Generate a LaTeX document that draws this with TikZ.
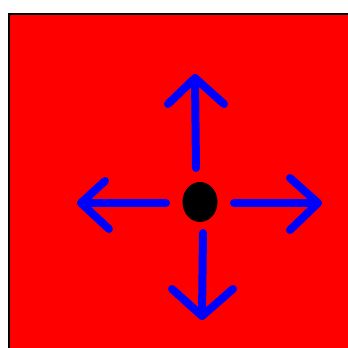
\documentclass[tikz,border=0pt]{standalone}
\usetikzlibrary{shapes.geometric}
\begin{document}
\begin{tikzpicture}[x=1pt,y=-1pt,
  arrowline/.style={draw={rgb,255:red,0;green,0;blue,255}, line width=8pt, line cap=round, line join=round}]
\useasboundingbox (0,0) rectangle (348,348);
\clip (0,0) rectangle (348,348);
\fill[white] (0,0) rectangle (348,348);
\draw[fill={rgb,255:red,255;green,0;blue,0}, draw=black, line width=2pt] (9,14) rectangle (360,360);
\node[ellipse, fill=black, minimum width=35pt, minimum height=40pt, inner sep=0pt] (dot) at (200,202) {};
% up
\coordinate (us) at (196,168); \coordinate (ut) at (195,78);
\coordinate (ua) at (168,104); \coordinate (ub) at (224,104);
\draw[arrowline] (us) -- (ut);
\draw[arrowline] (ua) -- (ut) -- (ub);
% left
\coordinate (ls) at (166,203); \coordinate (lt) at (81,203);
\coordinate (la) at (105,181); \coordinate (lb) at (109,229);
\draw[arrowline] (ls) -- (lt);
\draw[arrowline] (la) -- (lt) -- (lb);
% right
\coordinate (rs) at (234,203); \coordinate (rt) at (318,203);
\coordinate (ra) at (290,178); \coordinate (rb) at (290,230);
\draw[arrowline] (rs) -- (rt);
\draw[arrowline] (ra) -- (rt) -- (rb);
% down
\coordinate (ds) at (203,233); \coordinate (dt) at (202,316);
\coordinate (da) at (172,289); \coordinate (db) at (233,289);
\draw[arrowline] (ds) -- (dt);
\draw[arrowline] (da) -- (dt) -- (db);
\end{tikzpicture}
\end{document}
